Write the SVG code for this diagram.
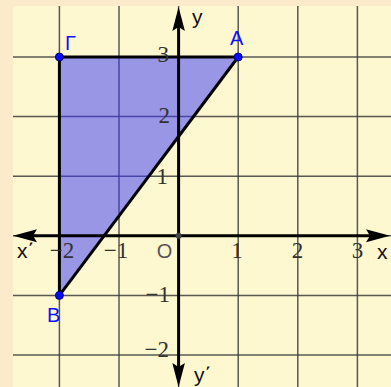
<svg xmlns="http://www.w3.org/2000/svg" width="391" height="387" viewBox="0 0 391 387">
  <style>
    .grid line { stroke: #3c3c3c; stroke-width: 1.5; stroke-opacity: 0.85; }
    .num { font-family: "Liberation Serif", serif; font-size: 23px; fill: #333; }
    .lbl { font-family: "Liberation Sans", "DejaVu Sans", sans-serif; font-size: 21px; fill: #111; }
    .pt { font-family: "Liberation Sans", "DejaVu Sans", sans-serif; font-size: 20px; fill: #1010ff; }
    .axis { stroke: #000; stroke-width: 3; fill: none; }
    .edge { stroke: #000; stroke-width: 3; fill: none; stroke-linejoin: round; }
    .vertex { fill: #0a0aff; stroke: #00007a; stroke-width: 1; }
  </style>
  <rect x="0" y="0" width="391" height="387" fill="#fcebcb"/>
  <rect x="13" y="6" width="378" height="381" fill="#fef8d1"/>

  <g class="grid" id="grid">
    <line x1="59.4" y1="6" x2="59.4" y2="387"/>
    <line x1="119" y1="6" x2="119" y2="387"/>
    <line x1="178.6" y1="6" x2="178.6" y2="387"/>
    <line x1="238.2" y1="6" x2="238.2" y2="387"/>
    <line x1="297.8" y1="6" x2="297.8" y2="387"/>
    <line x1="357.4" y1="6" x2="357.4" y2="387"/>
    <line x1="13" y1="57" x2="391" y2="57"/>
    <line x1="13" y1="116.6" x2="391" y2="116.6"/>
    <line x1="13" y1="176.2" x2="391" y2="176.2"/>
    <line x1="13" y1="235.8" x2="391" y2="235.8"/>
    <line x1="13" y1="295.4" x2="391" y2="295.4"/>
    <line x1="13" y1="355" x2="391" y2="355"/>
  </g>

  <g id="triangle">
    <polygon points="59.4,57 238.2,57 59.4,295.4" fill="#3533fc" fill-opacity="0.5"/>
  </g>

  <g id="axes">
    <line class="axis" x1="30" y1="235.8" x2="376" y2="235.8"/>
    <path d="M13,235.8 L37,229.3 L33,235.8 L37,242.3 Z" fill="#000"/>
    <path d="M390,235.8 L366,229.3 L370,235.8 L366,242.3 Z" fill="#000"/>
    <line class="axis" x1="178.6" y1="24" x2="178.6" y2="372"/>
    <path d="M178.6,7 L172.3,31 L178.6,27 L184.9,31 Z" fill="#000"/>
    <path d="M178.6,387 L172.3,363 L178.6,367 L184.9,363 Z" fill="#000"/>
    <circle cx="178.6" cy="235.8" r="3" fill="#444"/>
  </g>

  <g id="connectors">
    <polyline class="edge" points="238.2,57 59.4,57 59.4,295.4"/>
    <line class="edge" x1="59.4" y1="295.4" x2="238.2" y2="57"/>
  </g>

  <g id="ticks">
    <text class="num" x="169" y="62" text-anchor="end">3</text>
    <text class="num" x="170" y="123" text-anchor="end">2</text>
    <text class="num" x="168" y="184" text-anchor="end">1</text>
    <text class="num" x="170" y="302" text-anchor="end">−1</text>
    <text class="num" x="169" y="357" text-anchor="end">−2</text>
    <text class="num" x="62" y="258" text-anchor="middle">−2</text>
    <text class="num" x="116" y="258" text-anchor="middle">−1</text>
    <text class="num" x="237" y="258" text-anchor="middle">1</text>
    <text class="num" x="297.5" y="258" text-anchor="middle">2</text>
    <text class="num" x="357.5" y="258" text-anchor="middle">3</text>
    <text x="164.5" y="258" text-anchor="middle" font-family="Liberation Sans, sans-serif" font-size="20" fill="#555">O</text>
  </g>

  <g id="axis-labels">
    <text class="lbl" x="192" y="24">y</text>
    <text class="lbl" x="377" y="259">x</text>
    <text class="lbl" x="17" y="258">x΄</text>
    <text class="lbl" x="194" y="382">y΄</text>
  </g>

  <g id="node-G">
    <circle class="vertex" cx="59.4" cy="57" r="4"/>
    <text class="pt" x="65" y="50">Γ</text>
  </g>
  <g id="node-A">
    <circle class="vertex" cx="238.2" cy="57" r="4"/>
    <text class="pt" x="230" y="45">A</text>
  </g>
  <g id="node-B">
    <circle class="vertex" cx="59.4" cy="295.4" r="4"/>
    <text class="pt" x="47" y="322">B</text>
  </g>
</svg>
